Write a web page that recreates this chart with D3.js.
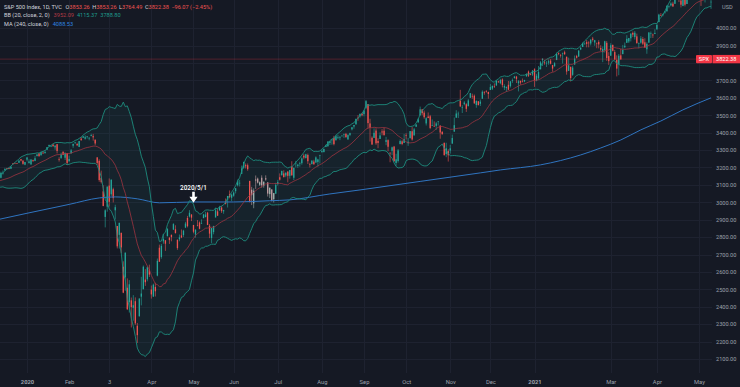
<!DOCTYPE html>
<html>
<head>
<meta charset="utf-8">
<script src="https://cdn.jsdelivr.net/npm/d3@7/dist/d3.min.js"></script>
<style>
body { margin: 0; background: #151924; }
text { font-family: Roboto, "Liberation Sans", sans-serif; }
</style>
</head>
<body>
<svg id="chart"></svg>
<script>
let width = 740;
let height = 387;
let plotRight = 712;
let plotBottom = 373;

// daily candles per month: [day, open, high, low, close]
let nov2019 = [[1,3051,3067,3051,3067],[4,3079,3084,3075,3078],[5,3081,3084,3072,3075],[6,3075,3079,3065,3077],[7,3087,3097,3080,3085],[8,3082,3093,3074,3093],[11,3080,3088,3076,3087],[12,3090,3102,3085,3092],[13,3084,3098,3083,3094],[14,3091,3098,3083,3097],[15,3108,3120,3104,3120],[18,3118,3124,3115,3122],[19,3128,3128,3112,3120],[20,3114,3119,3091,3108],[21,3108,3111,3095,3104],[22,3112,3113,3099,3110],[25,3118,3134,3117,3134],[26,3135,3142,3132,3141],[27,3146,3155,3146,3154],[29,3147,3151,3139,3141]];
let dec2019 = [[2,3144,3144,3110,3114],[3,3087,3095,3070,3093],[4,3103,3120,3103,3113],[5,3119,3120,3103,3117],[6,3134,3151,3134,3146],[9,3142,3148,3135,3136],[10,3135,3143,3126,3133],[11,3136,3144,3135,3142],[12,3141,3176,3138,3169],[13,3166,3183,3159,3169],[16,3183,3198,3183,3191],[17,3195,3198,3189,3193],[18,3196,3198,3191,3191],[19,3193,3206,3192,3205],[20,3223,3226,3216,3221],[23,3226,3227,3222,3224],[24,3225,3226,3221,3223],[26,3227,3240,3227,3240],[27,3248,3248,3235,3240],[30,3240,3240,3216,3221],[31,3216,3232,3213,3231]];
let jan2020 = [[2,3245,3258,3235,3258],[3,3226,3247,3222,3235],[6,3218,3247,3215,3246],[7,3242,3245,3232,3237],[8,3238,3267,3236,3253],[9,3266,3276,3263,3275],[10,3281,3282,3262,3265],[13,3271,3289,3267,3288],[14,3285,3295,3277,3283],[15,3282,3299,3281,3289],[16,3302,3317,3302,3317],[17,3323,3330,3318,3330],[21,3321,3329,3317,3321],[22,3331,3337,3320,3322],[23,3316,3326,3302,3326],[24,3334,3334,3281,3295],[27,3248,3259,3234,3244],[28,3255,3285,3249,3276],[29,3290,3293,3271,3273],[30,3256,3286,3243,3284],[31,3282,3282,3214,3226]];
let feb2020 = [[3,3235,3268,3235,3249],[4,3281,3306,3281,3298],[5,3325,3338,3313,3335],[6,3344,3347,3335,3346],[7,3335,3342,3323,3328],[10,3318,3352,3317,3352],[11,3366,3375,3352,3358],[12,3371,3381,3370,3379],[13,3365,3385,3360,3374],[14,3378,3381,3366,3380],[18,3369,3375,3356,3370],[19,3381,3394,3379,3386],[20,3380,3393,3354,3373],[21,3360,3360,3328,3338],[24,3258,3259,3215,3226],[25,3238,3247,3118,3128],[26,3140,3182,3108,3116],[27,3063,3098,2977,2979],[28,2916,2960,2856,2954]];
let mar2020 = [[2,2975,3091,2946,3090],[3,3096,3137,2976,3003],[4,3046,3131,3035,3130],[5,3075,3084,2999,3024],[6,2954,2986,2901,2972],[9,2864,2864,2735,2747],[10,2813,2883,2734,2882],[11,2825,2825,2707,2741],[12,2630,2661,2478,2481],[13,2569,2711,2492,2711],[16,2509,2563,2381,2386],[17,2426,2553,2367,2529],[18,2437,2453,2281,2398],[19,2394,2467,2320,2409],[20,2432,2454,2296,2305],[23,2291,2307,2192,2237],[24,2345,2449,2345,2447],[25,2458,2572,2408,2476],[26,2501,2637,2500,2630],[27,2556,2616,2520,2541],[30,2558,2632,2546,2627],[31,2614,2642,2571,2585]];
let apr2020 = [[1,2499,2522,2447,2471],[2,2459,2533,2456,2527],[3,2514,2538,2459,2489],[6,2579,2677,2575,2664],[7,2739,2757,2657,2659],[8,2686,2761,2676,2750],[9,2776,2819,2762,2790],[13,2782,2782,2721,2762],[14,2805,2852,2805,2846],[15,2796,2801,2761,2783],[16,2813,2815,2776,2800],[17,2843,2880,2842,2875],[20,2845,2868,2821,2823],[21,2785,2786,2727,2737],[22,2788,2815,2776,2799],[23,2810,2844,2794,2798],[24,2812,2842,2801,2837],[27,2855,2888,2852,2878],[28,2910,2922,2856,2863],[29,2918,2955,2913,2940],[30,2930,2931,2892,2912]];
let may2020 = [[1,2870,2870,2822,2831],[4,2815,2844,2797,2843],[5,2869,2898,2862,2868],[6,2884,2890,2845,2848],[7,2878,2902,2876,2881],[8,2909,2933,2909,2930],[11,2915,2945,2914,2930],[12,2940,2945,2869,2870],[13,2866,2875,2794,2820],[14,2795,2852,2766,2852],[15,2829,2865,2816,2864],[18,2913,2968,2913,2954],[19,2948,2965,2922,2923],[20,2953,2980,2953,2972],[21,2970,2978,2939,2949],[22,2948,2957,2934,2955],[26,3005,3022,2988,2992],[27,3016,3037,2970,3036],[28,3047,3068,3023,3030],[29,3026,3050,3007,3044]];
let jun2020 = [[1,3038,3063,3032,3056],[2,3064,3081,3051,3081],[3,3098,3131,3091,3123],[4,3112,3129,3091,3112],[5,3163,3211,3163,3194],[8,3199,3233,3192,3232],[9,3213,3223,3194,3207],[10,3213,3223,3181,3190],[11,3123,3123,2999,3002],[12,3072,3089,2984,3041],[15,2994,3080,2966,3067],[16,3131,3154,3077,3125],[17,3136,3142,3108,3113],[18,3101,3120,3094,3115],[19,3141,3155,3084,3098],[22,3095,3120,3084,3118],[23,3138,3155,3124,3131],[24,3114,3115,3033,3050],[25,3047,3084,3024,3084],[26,3074,3074,3005,3009],[29,3018,3054,2999,3053],[30,3050,3112,3048,3100]];
let jul2020 = [[1,3105,3129,3096,3116],[2,3144,3166,3125,3130],[6,3155,3182,3155,3180],[7,3166,3184,3142,3145],[8,3154,3172,3144,3170],[9,3176,3180,3115,3152],[10,3152,3186,3136,3185],[13,3205,3236,3153,3155],[14,3141,3200,3128,3198],[15,3226,3238,3200,3227],[16,3209,3221,3198,3216],[17,3224,3233,3205,3225],[20,3225,3258,3216,3252],[21,3268,3277,3247,3257],[22,3254,3279,3252,3276],[23,3272,3280,3220,3236],[24,3219,3227,3200,3216],[27,3219,3242,3219,3239],[28,3234,3244,3217,3218],[29,3228,3264,3228,3258],[30,3232,3250,3205,3246],[31,3270,3273,3223,3271]];
let aug2020 = [[3,3289,3302,3284,3295],[4,3289,3307,3286,3307],[5,3318,3331,3317,3328],[6,3323,3351,3318,3349],[7,3341,3352,3329,3351],[10,3356,3364,3331,3360],[11,3370,3382,3327,3334],[12,3356,3388,3356,3380],[13,3373,3388,3363,3373],[14,3369,3381,3357,3373],[17,3381,3387,3380,3382],[18,3387,3395,3370,3390],[19,3393,3399,3369,3375],[20,3361,3391,3360,3386],[21,3387,3400,3380,3397],[24,3419,3432,3413,3431],[25,3435,3444,3423,3444],[26,3449,3481,3444,3479],[27,3486,3501,3468,3485],[28,3494,3510,3486,3508],[31,3509,3514,3494,3500]];
let sep2020 = [[1,3507,3529,3494,3527],[2,3543,3588,3535,3581],[3,3564,3564,3427,3455],[4,3453,3480,3349,3427],[8,3371,3379,3330,3332],[9,3370,3425,3370,3399],[10,3412,3425,3330,3339],[11,3352,3368,3311,3341],[14,3364,3402,3364,3384],[15,3407,3420,3385,3401],[16,3411,3429,3385,3385],[17,3347,3376,3328,3357],[18,3357,3362,3293,3319],[21,3285,3286,3230,3281],[22,3296,3320,3271,3316],[23,3320,3324,3232,3237],[24,3226,3279,3210,3247],[25,3237,3306,3228,3298],[28,3334,3361,3334,3352],[29,3350,3357,3328,3335],[30,3341,3393,3341,3363]];
let oct2020 = [[1,3385,3397,3361,3381],[2,3339,3370,3324,3348],[5,3368,3409,3368,3409],[6,3408,3432,3354,3361],[7,3384,3427,3384,3419],[8,3434,3447,3434,3447],[9,3459,3483,3458,3477],[12,3501,3550,3496,3534],[13,3534,3535,3500,3512],[14,3515,3527,3480,3489],[15,3453,3489,3441,3483],[16,3493,3516,3483,3484],[19,3494,3502,3420,3427],[20,3439,3476,3439,3443],[21,3439,3465,3433,3436],[22,3439,3461,3416,3453],[23,3464,3466,3441,3465],[26,3441,3441,3365,3401],[27,3404,3410,3389,3391],[28,3342,3342,3268,3271],[29,3277,3342,3259,3310],[30,3294,3305,3234,3270]];
let nov2020 = [[2,3297,3330,3280,3310],[3,3337,3389,3337,3369],[4,3406,3487,3405,3443],[5,3486,3529,3486,3510],[6,3508,3521,3484,3509],[9,3583,3646,3547,3551],[10,3543,3558,3513,3546],[11,3564,3581,3557,3573],[12,3563,3569,3519,3537],[13,3552,3593,3552,3585],[16,3600,3628,3600,3627],[17,3611,3624,3595,3610],[18,3612,3619,3567,3568],[19,3559,3586,3543,3582],[20,3580,3582,3557,3558],[23,3566,3590,3553,3578],[24,3595,3643,3595,3635],[25,3635,3636,3618,3630],[27,3639,3644,3630,3638],[30,3634,3635,3595,3622]];
let dec2020 = [[1,3645,3679,3645,3662],[2,3653,3670,3645,3669],[3,3668,3683,3657,3667],[4,3671,3700,3670,3699],[7,3694,3698,3685,3692],[8,3684,3709,3678,3702],[9,3706,3712,3660,3673],[10,3659,3678,3645,3668],[11,3656,3665,3634,3663],[14,3675,3697,3645,3647],[15,3667,3695,3659,3695],[16,3697,3711,3686,3701],[17,3714,3726,3710,3722],[18,3722,3726,3685,3709],[21,3684,3702,3637,3695],[22,3698,3698,3676,3687],[23,3694,3711,3690,3690],[24,3694,3703,3690,3703],[28,3723,3740,3723,3735],[29,3751,3757,3720,3727],[30,3736,3744,3730,3732],[31,3734,3760,3726,3756]];
let jan2021 = [[4,3764,3770,3663,3701],[5,3699,3738,3695,3727],[6,3713,3783,3705,3748],[7,3764,3811,3764,3804],[8,3816,3827,3783,3825],[11,3803,3818,3790,3800],[12,3801,3811,3777,3801],[13,3802,3820,3790,3810],[14,3814,3823,3792,3796],[15,3788,3789,3750,3768],[19,3781,3805,3780,3799],[20,3817,3860,3817,3852],[21,3858,3861,3845,3853],[22,3845,3852,3831,3841],[25,3852,3860,3797,3855],[26,3862,3871,3848,3850],[27,3836,3837,3733,3751],[28,3755,3831,3755,3787],[29,3778,3779,3694,3714]];
let feb2021 = [[1,3732,3784,3726,3774],[2,3791,3843,3791,3826],[3,3840,3847,3826,3830],[4,3837,3872,3836,3872],[5,3878,3894,3874,3887],[8,3892,3916,3892,3916],[9,3911,3919,3907,3911],[10,3920,3932,3890,3910],[11,3917,3925,3890,3916],[12,3912,3935,3901,3935],[16,3940,3950,3923,3933],[17,3918,3933,3899,3931],[18,3916,3916,3885,3914],[19,3921,3931,3884,3907],[22,3886,3902,3868,3877],[23,3862,3895,3805,3881],[24,3874,3928,3860,3925],[25,3916,3926,3812,3829],[26,3840,3862,3789,3811]];
let mar2021 = [[1,3842,3914,3842,3902],[2,3904,3906,3867,3870],[3,3863,3875,3818,3820],[4,3818,3844,3723,3768],[5,3793,3852,3730,3842],[8,3844,3881,3819,3821],[9,3851,3904,3851,3875],[10,3891,3918,3885,3899],[11,3916,3960,3916,3939],[12,3924,3944,3915,3943],[15,3942,3970,3924,3969],[16,3973,3981,3949,3963],[17,3949,3984,3935,3974],[18,3953,3969,3910,3915],[19,3913,3918,3885,3913],[22,3917,3955,3911,3941],[23,3938,3950,3903,3911],[24,3919,3942,3889,3889],[25,3879,3919,3853,3910],[26,3917,3978,3917,3975],[29,3969,3981,3943,3971],[30,3963,3969,3944,3959],[31,3967,3994,3966,3973]];
let apr2021 = [[1,3993,4021,3993,4020],[5,4035,4083,4035,4078],[6,4075,4087,4069,4074],[7,4075,4084,4068,4080],[8,4090,4098,4083,4097],[9,4097,4130,4096,4129],[12,4124,4131,4114,4128],[13,4131,4149,4125,4142],[14,4141,4152,4123,4125],[15,4140,4173,4140,4170],[16,4175,4191,4171,4185],[19,4179,4181,4150,4163],[20,4160,4160,4119,4135],[21,4128,4175,4126,4173],[22,4171,4180,4125,4135],[23,4139,4195,4139,4180],[26,4186,4194,4183,4188],[27,4188,4193,4181,4187],[28,4185,4202,4182,4183],[29,4206,4219,4176,4211],[30,4198,4199,4174,4181]];
let may2021 = [[3,4192,4210,4188,4193],[4,4179,4180,4128,4165],[5,4177,4188,4160,4168],[6,4170,4202,4148,4202],[7,4210,4238,4202,4233],[10,4228,4236,4188,4188],[11,4151,4162,4111,4152]];

let candleMonths = [[2019,11,nov2019],[2019,12,dec2019],[2020,1,jan2020],[2020,2,feb2020],[2020,3,mar2020],[2020,4,apr2020],[2020,5,may2020],[2020,6,jun2020],[2020,7,jul2020],[2020,8,aug2020],[2020,9,sep2020],[2020,10,oct2020],[2020,11,nov2020],[2020,12,dec2020],[2021,1,jan2021],[2021,2,feb2021],[2021,3,mar2021],[2021,4,apr2021],[2021,5,may2021]];

// candles that show up greyed out in the picture
let greyFrom = "2020-06-12";
let greyTo = "2020-06-29";

// MA 240
let maDates = ["2019-12-11","2020-01-02","2020-02-03","2020-02-25","2020-03-06","2020-03-23","2020-04-07","2020-05-01","2020-06-01","2020-06-25","2020-07-10","2020-08-07","2020-08-28","2020-10-12","2020-11-23","2020-12-08","2021-01-07","2021-02-05","2021-02-22","2021-03-08","2021-03-22","2021-04-06","2021-04-21","2021-05-11"];
let maValues = [2902,2937,2988,3025,3031,3020,2997,3002,3002,3009,3014,3048,3071,3120,3169,3186,3215,3272,3312,3358,3416,3467,3531,3600];

let timeLabelDates = ["2020-01-02","2020-02-03","2020-03-03","2020-04-01","2020-05-01","2020-06-01","2020-07-01","2020-08-03","2020-09-01","2020-10-01","2020-11-02","2020-12-01","2021-01-04","2021-03-01","2021-04-01","2021-05-03"];
let timeLabelTexts = ["2020","Feb","3","Apr","May","Jun","Jul","Aug","Sep","Oct","Nov","Dec","2021","Mar","Apr","May"];
let priceTicks = [2100,2200,2300,2400,2500,2600,2700,2800,2900,3000,3100,3200,3300,3400,3500,3600,3700,3800,3900,4000];
// 3800 sits under the last-price tag, so its label is not shown
let hiddenPriceLabels = [3800];

let lastPrice = 3822.38;
let annotation = {date: "2020-05-01", price: 2998, text: "2020/5/1"};

let colors = {
	bg: "#151924", grid: "#1e2230", up: "#26a69a", down: "#ef5350",
	band: "#1d8c7e", basis: "#9e3440", ma: "#2f74c0", axisText: "#9da1ab"
};

// build candle list with bar index (0 = first bar of 2020)
let fmt = d3.timeFormat("%Y-%m-%d");
let candles = [];
candleMonths.forEach(function(m){
	m[2].forEach(function(r){
		candles.push({date: fmt(new Date(m[0], m[1] - 1, r[0])), o: r[1], h: r[2], l: r[3], c: r[4]});
	});
});
let firstBar = candles.findIndex(function(d){ return d.date == "2020-01-02"; });
let barOf = {};
candles.forEach(function(d, i){ d.i = i - firstBar; barOf[d.date] = d.i; });

// bollinger bands (20, 2)
candles.forEach(function(d, i){
	if (i < 19) return;
	let win = candles.slice(i - 19, i + 1).map(function(c){ return c.c; });
	let m = d3.mean(win);
	let sd = Math.sqrt(d3.mean(win, function(v){ return (v - m) * (v - m); }));
	d.basis = m; d.upper = m + 2 * sd; d.lower = m - 2 * sd;
});
let bb = candles.filter(function(d){ return d.basis !== undefined; });

let x = d3.scaleLinear().domain([0, barOf["2021-05-03"]]).range([27, 699]);
let y = d3.scaleLinear().domain([2100, 4000]).range([359, 28.2]);

let svg = d3.select("#chart").attr("width", width).attr("height", height);
svg.append("rect").attr("width", width).attr("height", height).attr("fill", colors.bg);

svg.append("defs").append("clipPath").attr("id", "plotClip")
	.append("rect").attr("x", 0).attr("y", 0).attr("width", plotRight).attr("height", plotBottom);

// grid
let grid = svg.append("g");
grid.selectAll(".hg").data(priceTicks).enter().append("line")
	.attr("x1", 0).attr("x2", plotRight)
	.attr("y1", function(d){ return Math.round(y(d)) + 0.5; })
	.attr("y2", function(d){ return Math.round(y(d)) + 0.5; })
	.attr("stroke", colors.grid).attr("stroke-width", 1);
grid.selectAll(".vg").data(timeLabelDates).enter().append("line")
	.attr("x1", function(d){ return Math.round(x(barOf[d])) + 0.5; })
	.attr("x2", function(d){ return Math.round(x(barOf[d])) + 0.5; })
	.attr("y1", 0).attr("y2", plotBottom)
	.attr("stroke", colors.grid).attr("stroke-width", 1);

let plot = svg.append("g").attr("clip-path", "url(#plotClip)");

// band fill
plot.append("path").datum(bb)
	.attr("d", d3.area().x(function(d){ return x(d.i); }).y0(function(d){ return y(d.lower); }).y1(function(d){ return y(d.upper); }))
	.attr("fill", colors.up).attr("fill-opacity", 0.07);

// candles
let isGrey = function(d){ return d.date >= greyFrom && d.date <= greyTo; };
let candleColor = function(d){
	if (isGrey(d)) return d.c >= d.o ? "#9fb3af" : "#bf9ca0";
	return d.c >= d.o ? colors.up : colors.down;
};
let cg = plot.selectAll(".candle").data(candles).enter().append("g");
cg.append("line")
	.attr("x1", function(d){ return x(d.i); }).attr("x2", function(d){ return x(d.i); })
	.attr("y1", function(d){ return y(d.h); }).attr("y2", function(d){ return y(d.l); })
	.attr("stroke", candleColor).attr("stroke-width", 0.6);
cg.append("rect")
	.attr("x", function(d){ return x(d.i) - 0.65; }).attr("width", 1.3)
	.attr("y", function(d){ return y(Math.max(d.o, d.c)); })
	.attr("height", function(d){ return Math.max(0.6, Math.abs(y(d.o) - y(d.c))); })
	.attr("fill", candleColor);

// MA 240
let maPts = maDates.map(function(d, k){ return [barOf[d], maValues[k]]; });
plot.append("path").datum(maPts)
	.attr("d", d3.line().x(function(d){ return x(d[0]); }).y(function(d){ return y(d[1]); }).curve(d3.curveMonotoneX))
	.attr("fill", "none").attr("stroke", colors.ma).attr("stroke-width", 1);

// band lines
let bandLine = function(key){
	return d3.line().x(function(d){ return x(d.i); }).y(function(d){ return y(d[key]); });
};
plot.append("path").datum(bb).attr("d", bandLine("basis")).attr("fill", "none").attr("stroke", colors.basis).attr("stroke-width", 0.8);
plot.append("path").datum(bb).attr("d", bandLine("upper")).attr("fill", "none").attr("stroke", colors.band).attr("stroke-width", 0.9);
plot.append("path").datum(bb).attr("d", bandLine("lower")).attr("fill", "none").attr("stroke", colors.band).attr("stroke-width", 0.9);

// last price line
plot.append("line").attr("x1", 0).attr("x2", plotRight)
	.attr("y1", y(lastPrice)).attr("y2", y(lastPrice))
	.attr("stroke", "#f23645").attr("stroke-width", 0.6).attr("opacity", 0.45);

// annotation
let ax = x(barOf[annotation.date]);
let ay = y(annotation.price);
svg.append("path")
	.attr("d", "M" + (ax - 1.3) + "," + (ay - 11) + "h2.6v5h2.8l-4.1,6l-4.1,-6h2.8z")
	.attr("fill", "#ffffff");
svg.append("text").attr("x", ax).attr("y", ay - 13).attr("text-anchor", "middle")
	.attr("fill", "#ffffff").attr("font-size", "6.4px").attr("font-weight", 500).text(annotation.text);

// price axis
let yAxis = svg.append("g").attr("transform", "translate(714,0)")
	.call(d3.axisRight(y).tickValues(priceTicks.filter(function(v){ return hiddenPriceLabels.indexOf(v) < 0; }))
		.tickSize(0).tickPadding(2).tickFormat(d3.format(".2f")));
yAxis.select(".domain").remove();
yAxis.selectAll("text").attr("fill", colors.axisText).attr("font-size", "5.6px").attr("font-family", "Roboto, sans-serif");

svg.append("text").attr("x", 722).attr("y", 9).attr("fill", colors.axisText).attr("font-size", "5.6px").text("USD");

// time axis
let xAxis = svg.append("g").attr("transform", "translate(0," + plotBottom + ")")
	.call(d3.axisBottom(x).tickValues(timeLabelDates.map(function(d){ return barOf[d]; }))
		.tickSize(0).tickPadding(7)
		.tickFormat(function(d, k){ return timeLabelTexts[k]; }));
xAxis.select(".domain").remove();
xAxis.selectAll("text").attr("fill", colors.axisText).attr("font-size", "5.8px").attr("font-family", "Roboto, sans-serif")
	.attr("font-weight", function(d, k){ return /^\d{4}$/.test(timeLabelTexts[k]) ? 700 : 400; });

// last price label
let lp = svg.append("g").attr("transform", "translate(0," + y(lastPrice) + ")");
lp.append("rect").attr("x", 696).attr("y", -4.2).attr("width", 16).attr("height", 8.4).attr("fill", "#f23645").attr("rx", 1);
lp.append("rect").attr("x", 712.5).attr("y", -4.2).attr("width", 27.5).attr("height", 8.4).attr("fill", "#f23645");
lp.append("text").attr("x", 704).attr("y", 2).attr("text-anchor", "middle").attr("fill", "#fff").attr("font-size", "5.6px").text("SPX");
lp.append("text").attr("x", 716).attr("y", 2).attr("fill", "#fff").attr("font-size", "5.6px").text(lastPrice.toFixed(2));

// legend (values shown by the screenshot, from the latest bar)
let legend = svg.append("g").attr("font-size", "5.6px");
let l1 = legend.append("text").attr("x", 4).attr("y", 8.5);
l1.append("tspan").attr("fill", "#d1d4dc").text("S&P 500 Index, 1D, TVC");
[["O", "3853.26"], ["H", "3853.26"], ["L", "3764.49"], ["C", "3822.38"]].forEach(function(p, k){
	l1.append("tspan").attr("fill", "#d1d4dc").attr("dx", k == 0 ? 3.5 : 2.5).text(p[0]);
	l1.append("tspan").attr("fill", "#ef5350").text(p[1]);
});
l1.append("tspan").attr("fill", "#ef5350").attr("dx", 2.5).text("\u221296.07 (\u22122.45%)");

let l2 = legend.append("text").attr("x", 4).attr("y", 17);
l2.append("tspan").attr("fill", "#d1d4dc").text("BB (20, close, 2, 0)");
l2.append("tspan").attr("fill", "#b23a46").attr("dx", 4).text("3952.09");
l2.append("tspan").attr("fill", "#1f9c8c").attr("dx", 3).text("4115.37");
l2.append("tspan").attr("fill", "#1f9c8c").attr("dx", 3).text("3788.80");

let l3 = legend.append("text").attr("x", 4).attr("y", 25.5);
l3.append("tspan").attr("fill", "#d1d4dc").text("MA (240, close, 0)");
l3.append("tspan").attr("fill", "#2f84e0").attr("dx", 4).text("4088.53");
</script>
</body>
</html>
